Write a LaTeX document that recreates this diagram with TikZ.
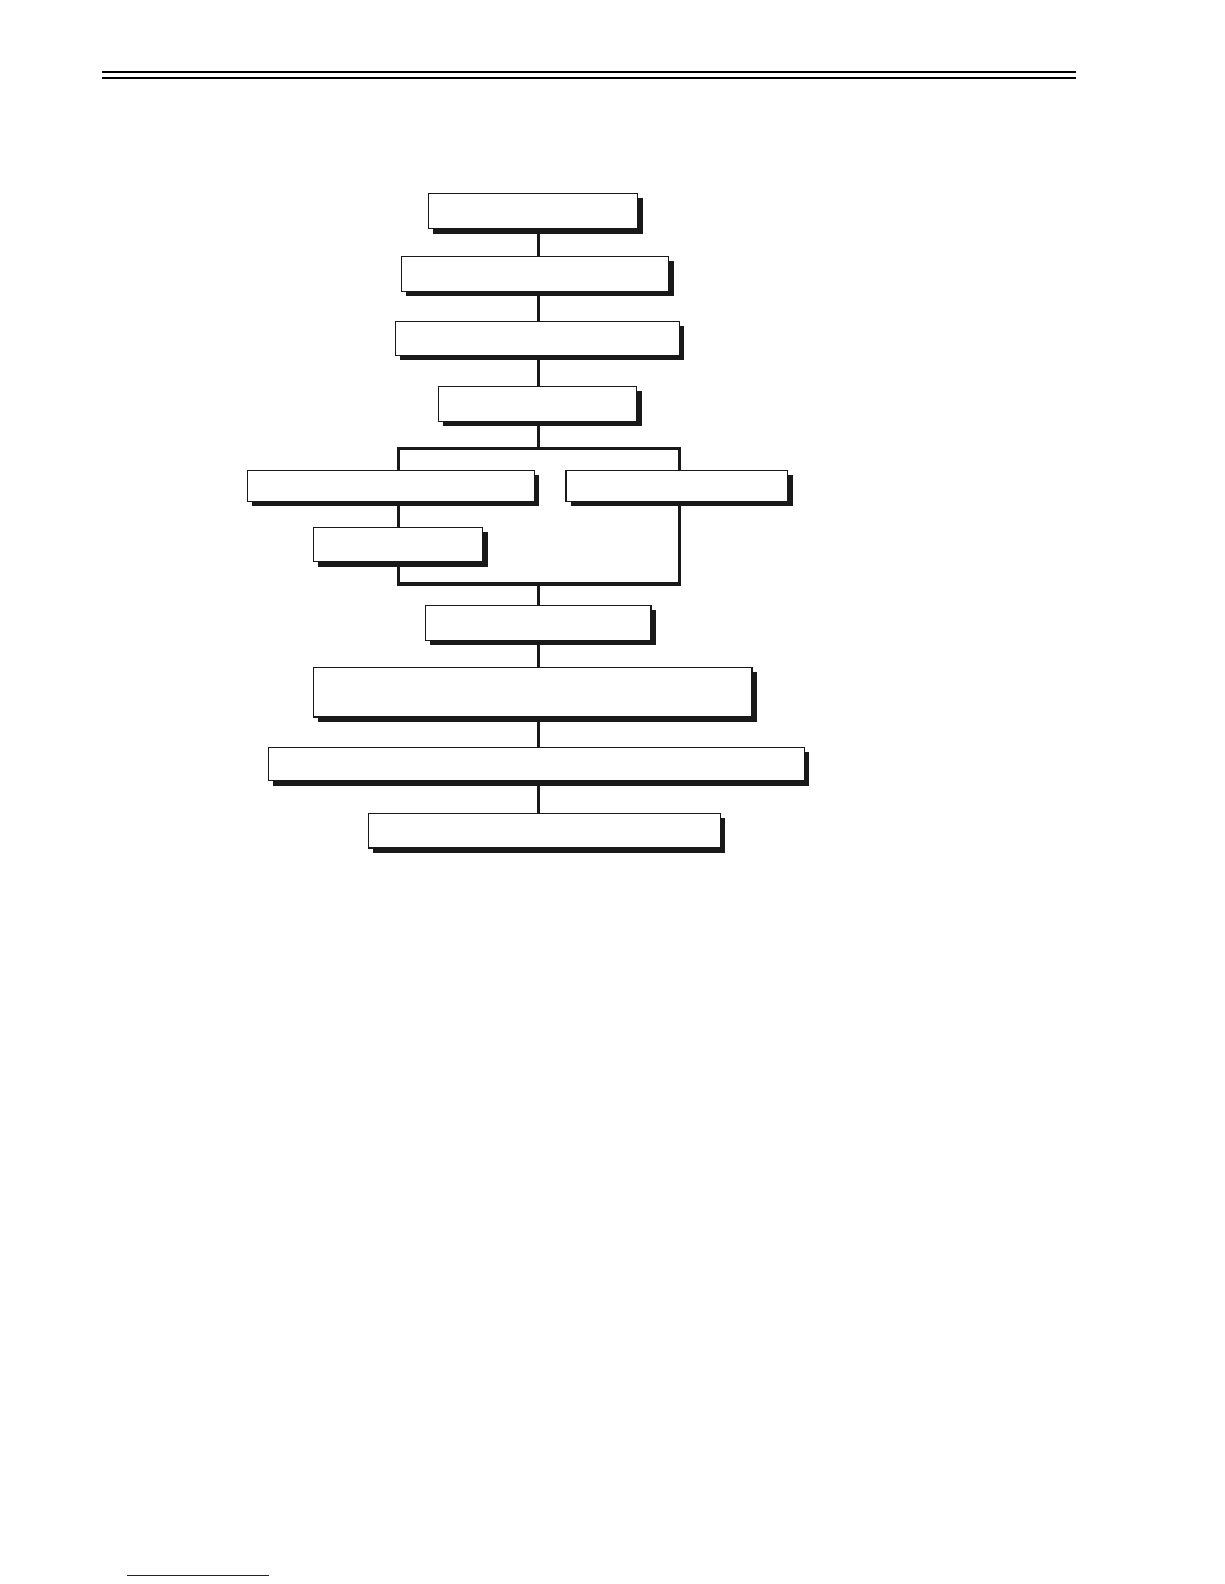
\documentclass[tikz,border=0pt]{standalone}
\usetikzlibrary{shadows}
\definecolor{bleunuit}{RGB}{20,20,140}
\tikzset{
  boite/.style={draw=black!90, line width=1.3pt, fill=white, inner sep=0pt,
    drop shadow={shadow xshift=5pt, shadow yshift=-5pt, fill=black!90, opacity=1}},
  lien/.style={draw=black!90, line width=3.3pt},
}
\begin{document}
\begin{tikzpicture}[x=1pt,y=-1pt]  % ------ Organigramme a boites ombrees --------
\useasboundingbox (0,0) rectangle (1224,1584);
    % filets de page
    \draw[line width=1.3pt] (102,72) -- (1076,72);
    \draw[line width=2.4pt] (102,78) -- (1076,78);
    \draw[bleunuit, line width=1.5pt] (127,1575.3) -- (269,1575.3);
    % axes des liens
    \coordinate (axe) at (538.5,0);
    \coordinate (gauche) at (398.3,0);
    \coordinate (droite) at (679.5,0);
    \coordinate (sep) at (538.5,448.3);
    \coordinate (jonc) at (538.5,584);
    % boites
    \node[boite, minimum width=209.3pt, minimum height=35.3pt] (b1) at (533,211) {};
    \node[boite, minimum width=267.3pt, minimum height=35pt] (b2) at (535,273.85) {};
    \node[boite, minimum width=284pt, minimum height=34pt] (b3) at (537.35,338.35) {};
    \node[boite, minimum width=198.3pt, minimum height=35pt] (b4) at (537.5,403.85) {};
    \node[boite, minimum width=287pt, minimum height=31pt] (b5g) at (390.85,485.85) {};
    \node[boite, minimum width=221.7pt, minimum height=31pt] (b5d) at (676.8,485.85) {};
    \node[boite, minimum width=169.3pt, minimum height=34.3pt] (b6) at (398,544.5) {};
    \node[boite, minimum width=225.7pt, minimum height=35pt] (b7) at (538.2,622.85) {};
    \node[boite, minimum width=438.7pt, minimum height=49.7pt] (b8) at (532.7,692.2) {};
    \node[boite, minimum width=536pt, minimum height=33.3pt] (b9) at (536.35,764) {};
    \node[boite, minimum width=352pt, minimum height=34.7pt] (b10) at (544.35,830.7) {};
    % liens
    \foreach \a/\b in {b1/b2,b2/b3,b3/b4,b7/b8,b8/b9,b9/b10}
        \draw[lien] (\a.south -| axe) -- (\b.north -| axe);
    \draw[lien] (b4.south -| axe) -- (sep);
    \draw[lien] (b5g.north -| gauche) |- (sep) -| (b5d.north -| droite);  % fourche
    \draw[lien] (b5g.south -| gauche) -- (b6.north -| gauche);
    \draw[lien] (b6.south -| gauche) |- (jonc) -| (b5d.south -| droite);  % retour
    \draw[lien] (jonc) -- (b7.north -| axe);
\end{tikzpicture}
\end{document}
